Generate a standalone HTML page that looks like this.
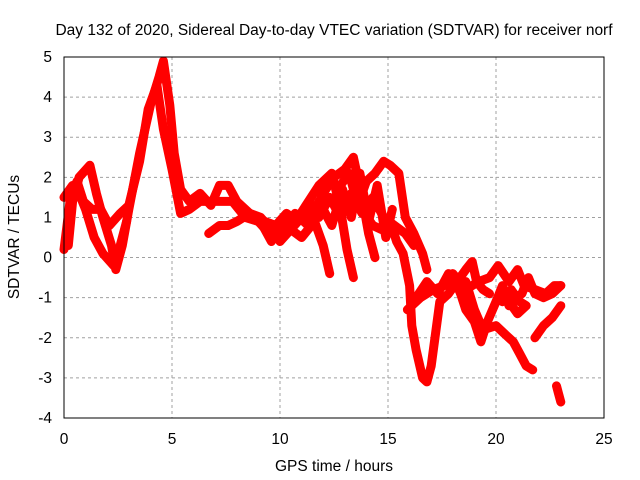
<!DOCTYPE html>
<html><head><meta charset="utf-8"><style>
body{margin:0;background:#fff;}
svg{display:block;font-family:"Liberation Sans",sans-serif;}
</style></head><body>
<svg width="640" height="480">
<rect width="640" height="480" fill="#fff"/>
<text x="334" y="35" font-size="15.5" text-anchor="middle">Day 132 of 2020, Sidereal Day-to-day VTEC variation (SDTVAR) for receiver norf</text>
<g id="grid"></g>
<g id="tracks"></g>
<rect x="64" y="57" width="540" height="361" fill="none" stroke="#000" stroke-width="1"/>
<g id="ticks"></g>
<text x="334" y="471" font-size="15.5" text-anchor="middle">GPS time / hours</text>
<text transform="translate(19,237) rotate(-90)" font-size="15.5" text-anchor="middle">SDTVAR / TECUs</text>
</svg>
<script>
const xTicks=[0,5,10,15,20,25];
const yTicks=[-4,-3,-2,-1,0,1,2,3,4,5];
const trackA=[[0.2,0.3],[0.4,1.4],[0.7,2.0],[1.2,2.3],[1.5,1.6],[1.8,1.0],[2.2,0.3],[2.4,-0.3],[2.7,0.3],[3.0,1.2],[3.5,2.6],[4.0,3.8],[4.4,4.5],[4.6,4.9],[4.9,3.8],[5.1,2.6],[5.4,1.7],[5.8,1.4],[6.3,1.6],[6.8,1.3],[7.2,1.8],[7.6,1.8],[8.0,1.4],[8.6,1.1],[9.2,0.8],[9.6,0.4],[10.0,0.9],[10.5,0.7],[11.0,1.0],[11.5,1.3]];
const trackB=[[0.0,0.2],[0.3,1.5],[0.6,1.9],[0.9,1.4],[1.3,1.2],[1.7,1.2],[2.1,0.8],[2.6,1.1],[3.0,1.3],[3.5,2.4],[3.9,3.7],[4.3,4.3],[4.6,3.2],[5.0,2.2],[5.4,1.1],[5.8,1.2],[6.3,1.4],[7.0,1.4],[7.8,1.4],[8.4,1.0],[9.0,0.9],[9.5,0.6],[10.1,0.7],[10.7,1.1],[11.3,0.8],[11.8,1.4]];
const trackC=[[0.0,1.5],[0.4,1.8],[0.7,1.6],[1.0,1.2],[1.4,0.5],[1.8,0.1],[2.3,-0.2],[2.6,0.3],[2.9,0.9]];
const trackD=[[6.7,0.6],[7.2,0.8],[7.6,0.8],[8.0,0.9],[8.6,1.1],[9.1,1.0],[9.6,0.7],[10.0,0.4],[10.5,0.7],[11.0,0.5],[11.6,0.9],[12.0,0.3],[12.3,-0.4]];
const trackE=[[10.6,0.8],[11.2,1.3],[11.8,1.8],[12.4,2.1],[12.8,1.2],[13.1,0.2],[13.4,-0.5]];
const trackF=[[11.5,1.0],[12.0,1.6],[12.5,2.0],[13.0,2.2],[13.4,2.5],[13.8,1.5],[14.1,0.6],[14.4,0.0]];
const trackG=[[12.8,1.8],[13.2,2.1],[13.6,1.3],[14.0,1.9],[14.4,2.1],[14.8,2.4],[15.1,2.3],[15.5,2.1],[15.8,1.0],[16.2,0.6],[16.6,0.1],[16.8,-0.3]];
const trackH=[[13.9,1.1],[14.3,0.8],[14.7,0.7],[15.1,0.9],[15.4,0.4],[15.7,0.1],[16.0,-0.7],[16.1,-1.7],[16.3,-2.3],[16.6,-3.0],[16.8,-3.1],[17.0,-2.7],[17.2,-1.9],[17.4,-1.1],[17.8,-0.9],[18.2,-0.6],[18.6,-0.3],[18.9,-0.1],[19.1,-0.6],[19.4,-0.8],[19.7,-0.9]];
const trackI=[[15.9,-1.3],[16.5,-1.0],[17.1,-0.8],[17.6,-0.7],[18.0,-0.4],[18.6,-0.8],[19.2,-0.6],[19.7,-0.5],[20.1,-0.2],[20.6,-0.6],[21.0,-0.3],[21.3,-0.7],[21.8,-0.8],[22.3,-0.9],[22.7,-0.7],[23.0,-0.7]];
const trackJ=[[18.3,-0.8],[18.6,-1.3],[19.0,-1.6],[19.3,-2.1],[19.6,-1.6],[20.0,-1.1],[20.3,-0.7],[20.6,-1.2],[20.9,-1.0],[21.2,-0.9],[21.5,-0.5],[21.8,-0.9],[22.2,-1.0],[22.6,-0.9],[23.0,-0.7]];
const trackK=[[18.6,-0.6],[19.0,-1.3],[19.4,-1.8],[20.0,-1.7],[20.4,-1.9],[20.8,-2.1],[21.1,-2.4],[21.4,-2.7],[21.7,-2.8]];
const trackL=[[21.8,-2.0],[22.2,-1.7],[22.6,-1.5],[23.0,-1.2]];
const trackM=[[22.8,-3.2],[22.9,-3.4],[23.0,-3.6]];
const trackN=[[20.3,-1.1],[20.7,-0.8],[21.1,-1.1],[21.4,-1.2],[21.0,-1.4],[20.6,-1.1]];
const trackO=[[9.3,0.9],[9.8,0.8],[10.3,1.1],[10.8,0.9],[11.3,1.2],[11.8,1.0],[12.3,1.5],[12.8,1.0],[13.3,1.6],[13.8,1.1],[14.3,1.5],[14.8,1.0],[15.3,0.8],[15.8,0.6],[16.2,0.3]];
const trackP=[[12.0,1.2],[12.4,0.8],[12.9,1.7],[13.3,1.0],[13.7,2.1],[14.1,0.9],[14.5,1.8],[14.9,0.5],[15.2,1.2]];
const trackQ=[[16.3,-1.0],[16.8,-0.6],[17.3,-0.9],[17.8,-0.4],[18.2,-0.7],[18.6,-1.2]];
const tracks=[trackA,trackB,trackC,trackD,trackE,trackF,trackG,trackH,trackI,trackJ,trackK,trackL,trackM,trackN,trackO,trackP,trackQ];
const X0=64,X1=604,Y0=418,Y1=57;
function sx(h){return X0+(h-0)/(25-0)*(X1-X0);}
function sy(v){return Y0-(v-(-4))/(5-(-4))*(Y0-Y1);}
const NS="http://www.w3.org/2000/svg";
const grid=document.getElementById('grid'),ticks=document.getElementById('ticks'),tg=document.getElementById('tracks');
xTicks.forEach(t=>{
  const x=sx(t);
  if(t>0&&t<25){const l=document.createElementNS(NS,'line');
    
    
    l.setAttribute('x1',x);l.setAttribute('x2',x);l.setAttribute('y1',Y1);l.setAttribute('y2',Y0);
    l.setAttribute('stroke','#a0a0a0');l.setAttribute('stroke-dasharray','3,3');grid.appendChild(l);}
  const tx=document.createElementNS(NS,'text');
  
  
  tx.setAttribute('x',x);tx.setAttribute('y',444);tx.setAttribute('font-size','15.5');tx.setAttribute('text-anchor','middle');
  tx.textContent=t;ticks.appendChild(tx);
});
yTicks.forEach(t=>{
  const y=sy(t);
  if(t>-4&&t<5){const l=document.createElementNS(NS,'line');
    
    
    l.setAttribute('x1',X0);l.setAttribute('x2',X1);l.setAttribute('y1',y);l.setAttribute('y2',y);
    l.setAttribute('stroke','#a0a0a0');l.setAttribute('stroke-dasharray','3,3');grid.appendChild(l);}
  const tx=document.createElementNS(NS,'text');
  
  
  tx.setAttribute('x',52);tx.setAttribute('y',y+5);tx.setAttribute('font-size','15.5');tx.setAttribute('text-anchor','end');
  tx.textContent=t;ticks.appendChild(tx);
});
tracks.forEach(tr=>{
  const p=document.createElementNS(NS,'polyline');
  
  
  p.setAttribute('points',tr.map(d=>sx(d[0]).toFixed(1)+','+sy(d[1]).toFixed(1)).join(' '));
  p.setAttribute('fill','none');p.setAttribute('stroke','#ff0000');p.setAttribute('stroke-width','9');
  p.setAttribute('stroke-linejoin','round');p.setAttribute('stroke-linecap','round');
  tg.appendChild(p);
});
</script>
</body></html>
